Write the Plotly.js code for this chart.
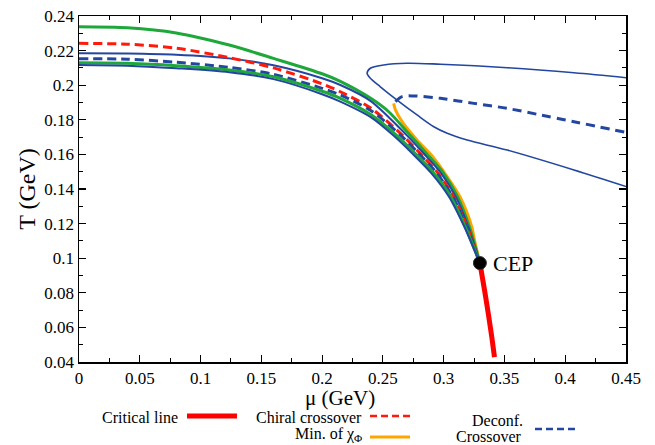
<!DOCTYPE html>
<html>
<head>
<meta charset="utf-8">
<script src="https://cdn.plot.ly/plotly-3.0.1.min.js"></script>
<style>html,body{margin:0;padding:0;background:#fff;}#chart{width:655px;height:445px;}</style>
</head>
<body>
<div id="chart"></div>
<script>
// Band of crossover curves (mu in GeV, T in GeV)
const muGreenUp = [0,0.04,0.08,0.1236,0.16,0.2,0.215,0.24,0.255,0.2725,0.2855,0.2998,0.3115,0.3212,0.3268,0.3298];
const TGreenUp  = [0.2338,0.2332,0.2302,0.2232,0.2155,0.2066,0.2022,0.1924,0.1845,0.171,0.1608,0.1492,0.1354,0.118,0.1047,0.097];
const muBlueUp = [0,0.04,0.08,0.1236,0.16,0.2,0.215,0.24,0.2697,0.2832,0.2978,0.3101,0.3204,0.3265,0.3298];
const TBlueUp  = [0.2184,0.2183,0.2176,0.2155,0.2115,0.2040,0.2001,0.1908,0.171,0.1608,0.1492,0.1354,0.118,0.1047,0.097];
const muChiral = [0,0.04,0.08,0.1236,0.16,0.2,0.215,0.24,0.2662,0.2803,0.2953,0.3083,0.3194,0.3261,0.3298];
const TChiral  = [0.2242,0.2237,0.2214,0.2159,0.2100,0.2008,0.1962,0.1868,0.171,0.1608,0.1492,0.1354,0.118,0.1047,0.097];
const muBlueDash = [0,0.04,0.08,0.1236,0.16,0.2,0.215,0.24,0.2648,0.2791,0.2943,0.3076,0.3189,0.326,0.3298];
const TBlueDash  = [0.2153,0.2150,0.2133,0.2103,0.2063,0.1982,0.1943,0.1854,0.171,0.1608,0.1492,0.1354,0.118,0.1047,0.097];
const muGreenLow = [0,0.04,0.08,0.1236,0.16,0.2,0.215,0.24,0.2613,0.2762,0.2918,0.3059,0.3179,0.3256,0.3298];
const TGreenLow  = [0.2130,0.2127,0.2113,0.2088,0.2049,0.1965,0.1924,0.1831,0.171,0.1608,0.1492,0.1354,0.118,0.1047,0.097];
const muBlueLow = [0,0.04,0.08,0.1236,0.16,0.2,0.215,0.24,0.2585,0.2738,0.2898,0.3045,0.3171,0.3253,0.3298];
const TBlueLow  = [0.2117,0.2113,0.2098,0.2075,0.2035,0.1948,0.1905,0.1815,0.171,0.1608,0.1492,0.1354,0.118,0.1047,0.097];
// Min. of chi_Phi
const muChiPhi = [0.2589,0.2595,0.2603,0.2658,0.2782,0.291,0.302,0.3135,0.3232,0.3252,0.3292];
const TChiPhi  = [0.1895,0.1875,0.1857,0.1789,0.1682,0.1587,0.1481,0.1354,0.118,0.111,0.099];
// Critical (first-order) line
const muCrit = [0.3298,0.3336,0.3369,0.3396,0.3418];
const TCrit  = [0.0972,0.0816,0.0671,0.0544,0.0428];
// Critical end point
const muCEP = [0.3298];
const TCEP  = [0.0972];
// Deconfinement loop (solid)
const muDeconfLoop = [0.4506,0.4072,0.3523,0.2974,0.2699,0.2507,0.2397,0.2370,0.2397,0.2479,0.2617,0.2781,0.2919,0.3029,0.3193,0.3523,0.4072,0.4506];
const TDeconfLoop  = [0.2043,0.2072,0.2101,0.2121,0.2127,0.2117,0.2098,0.2069,0.2040,0.1991,0.1914,0.1828,0.1760,0.1722,0.1683,0.1625,0.1510,0.1413];
// Deconfinement crossover (dashed)
const muDeconfCross = [0.2603,0.2658,0.2754,0.2974,0.3248,0.3523,0.3797,0.4072,0.4506];
const TDeconfCross  = [0.1905,0.1934,0.1938,0.1924,0.1895,0.1866,0.1828,0.1789,0.1726];
// Tick labels
const xTickVals = [0,0.05,0.1,0.15,0.2,0.25,0.3,0.35,0.4,0.45];
const xTickText = ['0','0.05','0.1','0.15','0.2','0.25','0.3','0.35','0.4','0.45'];
const yTickVals = [0.04,0.06,0.08,0.1,0.12,0.14,0.16,0.18,0.2,0.22,0.24];
const yTickText = ['0.04','0.06','0.08','0.1','0.12','0.14','0.16','0.18','0.2','0.22','0.24'];

const GREEN = '#1fa83a', BLUE = '#2347a0', RED = '#ff1a0a', ORANGE = '#ffa500';
const FONT = '"Liberation Serif", "Times New Roman", Times, serif';

function ln(x, y, color, width, dash, smooth) {
  return {x: x, y: y, type: 'scatter', mode: 'lines', hoverinfo: 'skip', showlegend: false,
    line: {color: color, width: width, dash: dash || 'solid', shape: 'spline', smoothing: smooth === undefined ? 0.8 : smooth}};
}

const traces = [
  ln(muDeconfLoop, TDeconfLoop, BLUE, 1.6, 'solid', 0.9),
  ln(muDeconfCross, TDeconfCross, BLUE, 3, '9px,6px', 0.9),
  ln(muChiPhi, TChiPhi, ORANGE, 3),
  ln(muGreenUp, TGreenUp, GREEN, 3),
  ln(muBlueUp, TBlueUp, BLUE, 2),
  ln(muChiral, TChiral, RED, 3, '9px,5px'),
  ln(muBlueDash, TBlueDash, BLUE, 3, '9px,5px'),
  ln(muGreenLow, TGreenLow, GREEN, 3),
  ln(muBlueLow, TBlueLow, BLUE, 2),
  ln(muCrit, TCrit, '#ff0000', 5, 'solid', 0.6),
  {x: muCEP, y: TCEP, type: 'scatter', mode: 'markers', hoverinfo: 'skip', showlegend: false,
   marker: {color: '#000', size: 13, line: {color: '#333', width: 1}}}
];

const W = 547, H = 346, L = 79, TOP = 16;
function px(x) { return (x - L) / W; }
function py(y) { return (TOP + H - y) / H; }

const axisCommon = {
  showgrid: false, zeroline: false, showline: true, linecolor: '#000', linewidth: 1.5,
  mirror: 'allticks', ticks: 'inside', ticklen: 7, tickwidth: 1.2, tickcolor: '#000',
  tickfont: {family: FONT, size: 17, color: '#000'}
};

const layout = {
  width: 655, height: 445,
  margin: {l: L, r: 655 - L - W, t: TOP, b: 445 - TOP - H},
  paper_bgcolor: '#fff', plot_bgcolor: '#fff',
  font: {family: FONT, color: '#000'},
  xaxis: Object.assign({}, axisCommon, {
    range: [0, 0.45],
    tickvals: xTickVals, ticktext: xTickText,
    minor: {ticks: 'inside', ticklen: 4, tickwidth: 1, tickcolor: '#000', dtick: 0.025, tick0: 0}
  }),
  yaxis: Object.assign({}, axisCommon, {
    range: [0.04, 0.24],
    tickvals: yTickVals, ticktext: yTickText,
    minor: {ticks: 'inside', ticklen: 4, tickwidth: 1, tickcolor: '#000', dtick: 0.01, tick0: 0},
    title: {text: 'T (GeV)', font: {family: FONT, size: 24, color: '#000'}, standoff: 2}
  }),
  annotations: [
    {x: px(340), y: py(398), xref: 'paper', yref: 'paper', xanchor: 'center', yanchor: 'middle', showarrow: false,
     text: 'μ (GeV)', font: {family: FONT, size: 21, color: '#000'}},
    {x: 0.3386, y: 0.0972, xref: 'x', yref: 'y', xanchor: 'left', yanchor: 'middle', showarrow: false,
     text: 'CEP', font: {family: FONT, size: 22, color: '#000'}},
    {x: px(180), y: py(417), xref: 'paper', yref: 'paper', xanchor: 'right', yanchor: 'middle', showarrow: false,
     text: 'Critical line', font: {family: FONT, size: 16, color: '#000'}},
    {x: px(364), y: py(417), xref: 'paper', yref: 'paper', xanchor: 'right', yanchor: 'middle', showarrow: false,
     text: 'Chiral crossover', font: {family: FONT, size: 16, color: '#000'}},
    {x: px(364), y: py(434), xref: 'paper', yref: 'paper', xanchor: 'right', yanchor: 'middle', showarrow: false,
     text: 'Min. of χ<sub>Φ</sub>', font: {family: FONT, size: 16, color: '#000'}},
    {x: px(525), y: py(421), xref: 'paper', yref: 'paper', xanchor: 'right', yanchor: 'middle', showarrow: false,
     text: 'Deconf.', font: {family: FONT, size: 16, color: '#000'}},
    {x: px(524), y: py(436), xref: 'paper', yref: 'paper', xanchor: 'right', yanchor: 'middle', showarrow: false,
     text: 'Crossover', font: {family: FONT, size: 16, color: '#000'}}
  ],
  shapes: [
    {type: 'line', xref: 'paper', yref: 'paper', x0: px(187), x1: px(237), y0: py(416), y1: py(416),
     line: {color: '#ff0000', width: 5}},
    {type: 'line', xref: 'paper', yref: 'paper', x0: px(370), x1: px(410), y0: py(416), y1: py(416),
     line: {color: RED, width: 2.5, dash: '7px,4px'}},
    {type: 'line', xref: 'paper', yref: 'paper', x0: px(370), x1: px(410), y0: py(437), y1: py(437),
     line: {color: ORANGE, width: 3}},
    {type: 'line', xref: 'paper', yref: 'paper', x0: px(535), x1: px(575), y0: py(429), y1: py(429),
     line: {color: BLUE, width: 2.5, dash: '7px,4px'}}
  ]
};

Plotly.newPlot('chart', traces, layout, {staticPlot: true, displayModeBar: false});
</script>
</body>
</html>
